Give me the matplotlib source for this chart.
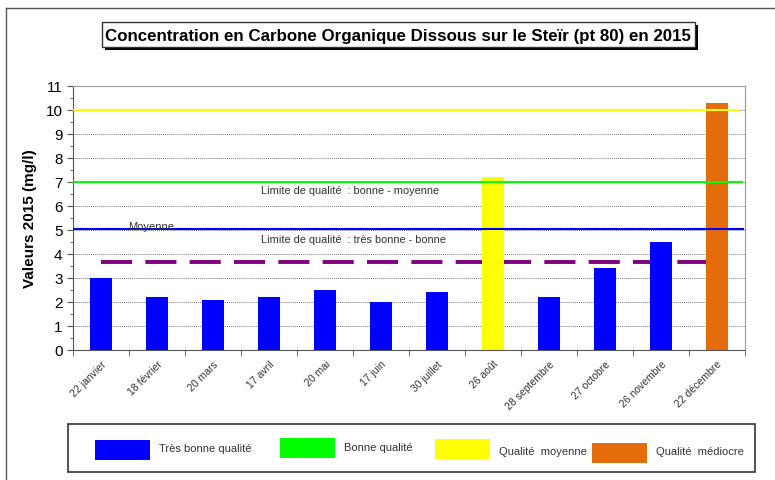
import matplotlib.pyplot as plt
from matplotlib.patches import Rectangle
from matplotlib.lines import Line2D
from matplotlib.ticker import MultipleLocator

plt.rcParams['font.family'] = ['Liberation Sans', 'DejaVu Sans']

# data
dates = ['22 janvier', '18 février', '20 mars', '17 avril', '20 mai', '17 juin',
         '30 juillet', '26 août', '28 septembre', '27 octobre', '26 novembre',
         '22 décembre']
valeurs = [3.0, 2.2, 2.1, 2.2, 2.5, 2.0, 2.4, 7.2, 2.2, 3.4, 4.5, 10.3]
moyenne = 3.65
seuils = [5.05, 7.0, 10.0]  # très bonne/bonne, bonne/moyenne, moyenne/médiocre
classes = ['Très bonne qualité', 'Bonne qualité', 'Qualité  moyenne', 'Qualité  médiocre']
couleurs = ['#0000ff', '#00ff00', '#ffff00', '#e46c0a']


def couleur(v):
    for s, c in zip(seuils, couleurs):
        if v < s:
            return c
    return couleurs[-1]


fig = plt.figure(figsize=(7.75, 4.81), dpi=100)

# outer frame (left and top visible)
fig.add_artist(Line2D([6 / 775, 6 / 775], [0, 1 - 9 / 481], transform=fig.transFigure,
                      color='#555555', lw=1))
fig.add_artist(Line2D([6 / 775, 1], [1 - 9 / 481, 1 - 9 / 481], transform=fig.transFigure,
                      color='#555555', lw=1))

ax = fig.add_axes([73 / 775, 1 - 351 / 481, 672 / 775, 264 / 481])
x = range(len(dates))
ax.bar(x, valeurs, width=0.41, color=[couleur(v) for v in valeurs], zorder=2)

ax.plot([0, len(dates) - 1], [moyenne, moyenne], color='#800080', lw=2.8,
        dashes=(8, 3.4), zorder=1.5)

ax.axhline(10, color='#ffff00', lw=1.5, xmax=0.99, zorder=3)
ax.axhline(7, color='#00ff00', lw=1.5, xmax=0.995, zorder=3)
ax.axhline(5.05, color='#0000ff', lw=1.5, xmax=0.997, zorder=3)

ax.text(0.082, 5.15, 'Moyenne', transform=ax.get_yaxis_transform(), fontsize=8,
        color='#333333', va='center', zorder=4)
ax.text(0.28, 6.67, 'Limite de qualité  : bonne - moyenne', transform=ax.get_yaxis_transform(),
        fontsize=7.9, color='#333333', va='center')
ax.text(0.28, 4.63, 'Limite de qualité  : très bonne - bonne', transform=ax.get_yaxis_transform(),
        fontsize=7.9, color='#333333', va='center')

ax.set_xlim(-0.5, len(dates) - 0.5)
ax.set_ylim(0, 11)
ax.yaxis.set_major_locator(MultipleLocator(1))
ax.yaxis.set_minor_locator(MultipleLocator(0.5))
ax.grid(axis='y', which='major', linestyle=(0, (1, 1)), color='#777777', lw=0.7, zorder=0)
ax.set_axisbelow(True)

ax.set_xticks(x)
ax.set_xticklabels(dates, rotation=45, ha='right', rotation_mode='anchor',
                   fontsize=7.5, color='#333333')
ax.tick_params(axis='x', length=0, pad=6)
ax.set_xticks([i + 0.5 for i in range(-1, len(dates))], minor=True)
ax.tick_params(axis='x', which='minor', length=4, color='#555555')
ax.tick_params(axis='y', which='major', length=4, labelsize=11, color='#555555')
ax.tick_params(axis='y', which='minor', length=2, color='#555555')
ax.set_ylabel('Valeurs 2015 (mg/l)', fontsize=11, fontweight='bold', labelpad=6)
for sp in ax.spines.values():
    sp.set_color('#999999')
ax.spines['left'].set_color('#555555')
ax.spines['bottom'].set_color('#555555')

# title box with shadow
fig.add_artist(Rectangle((105 / 775, 1 - 51 / 481), 593 / 775, 25 / 481,
                         transform=fig.transFigure, facecolor='black', edgecolor='none'))
fig.add_artist(Rectangle((102 / 775, 1 - 48 / 481), 593 / 775, 25 / 481,
                         transform=fig.transFigure, facecolor='white', edgecolor='#333333', lw=1))
fig.text(398 / 775, 1 - 36 / 481, 'Concentration en Carbone Organique Dissous sur le Steïr (pt 80) en 2015',
         ha='center', va='center', fontsize=12.2, fontweight='bold')

# legend box
fig.add_artist(Rectangle((68 / 775, 1 - 473 / 481), 687 / 775, 48 / 481,
                         transform=fig.transFigure, facecolor='white', edgecolor='#333333', lw=1.2))
leg_x = [95, 280, 435, 592]
leg_y = [451, 449, 450, 454]
leg_ty = [449, 448, 452, 452]
for lab, c, lx, ly, ty in zip(classes, couleurs, leg_x, leg_y, leg_ty):
    fig.add_artist(Rectangle((lx / 775, 1 - (ly + 10) / 481), 55 / 775, 20 / 481,
                             transform=fig.transFigure, facecolor=c, edgecolor='none'))
    fig.text((lx + 64) / 775, 1 - ty / 481, lab, fontsize=8, color='#333333', va='center')

fig.savefig('out.png', dpi=100)
